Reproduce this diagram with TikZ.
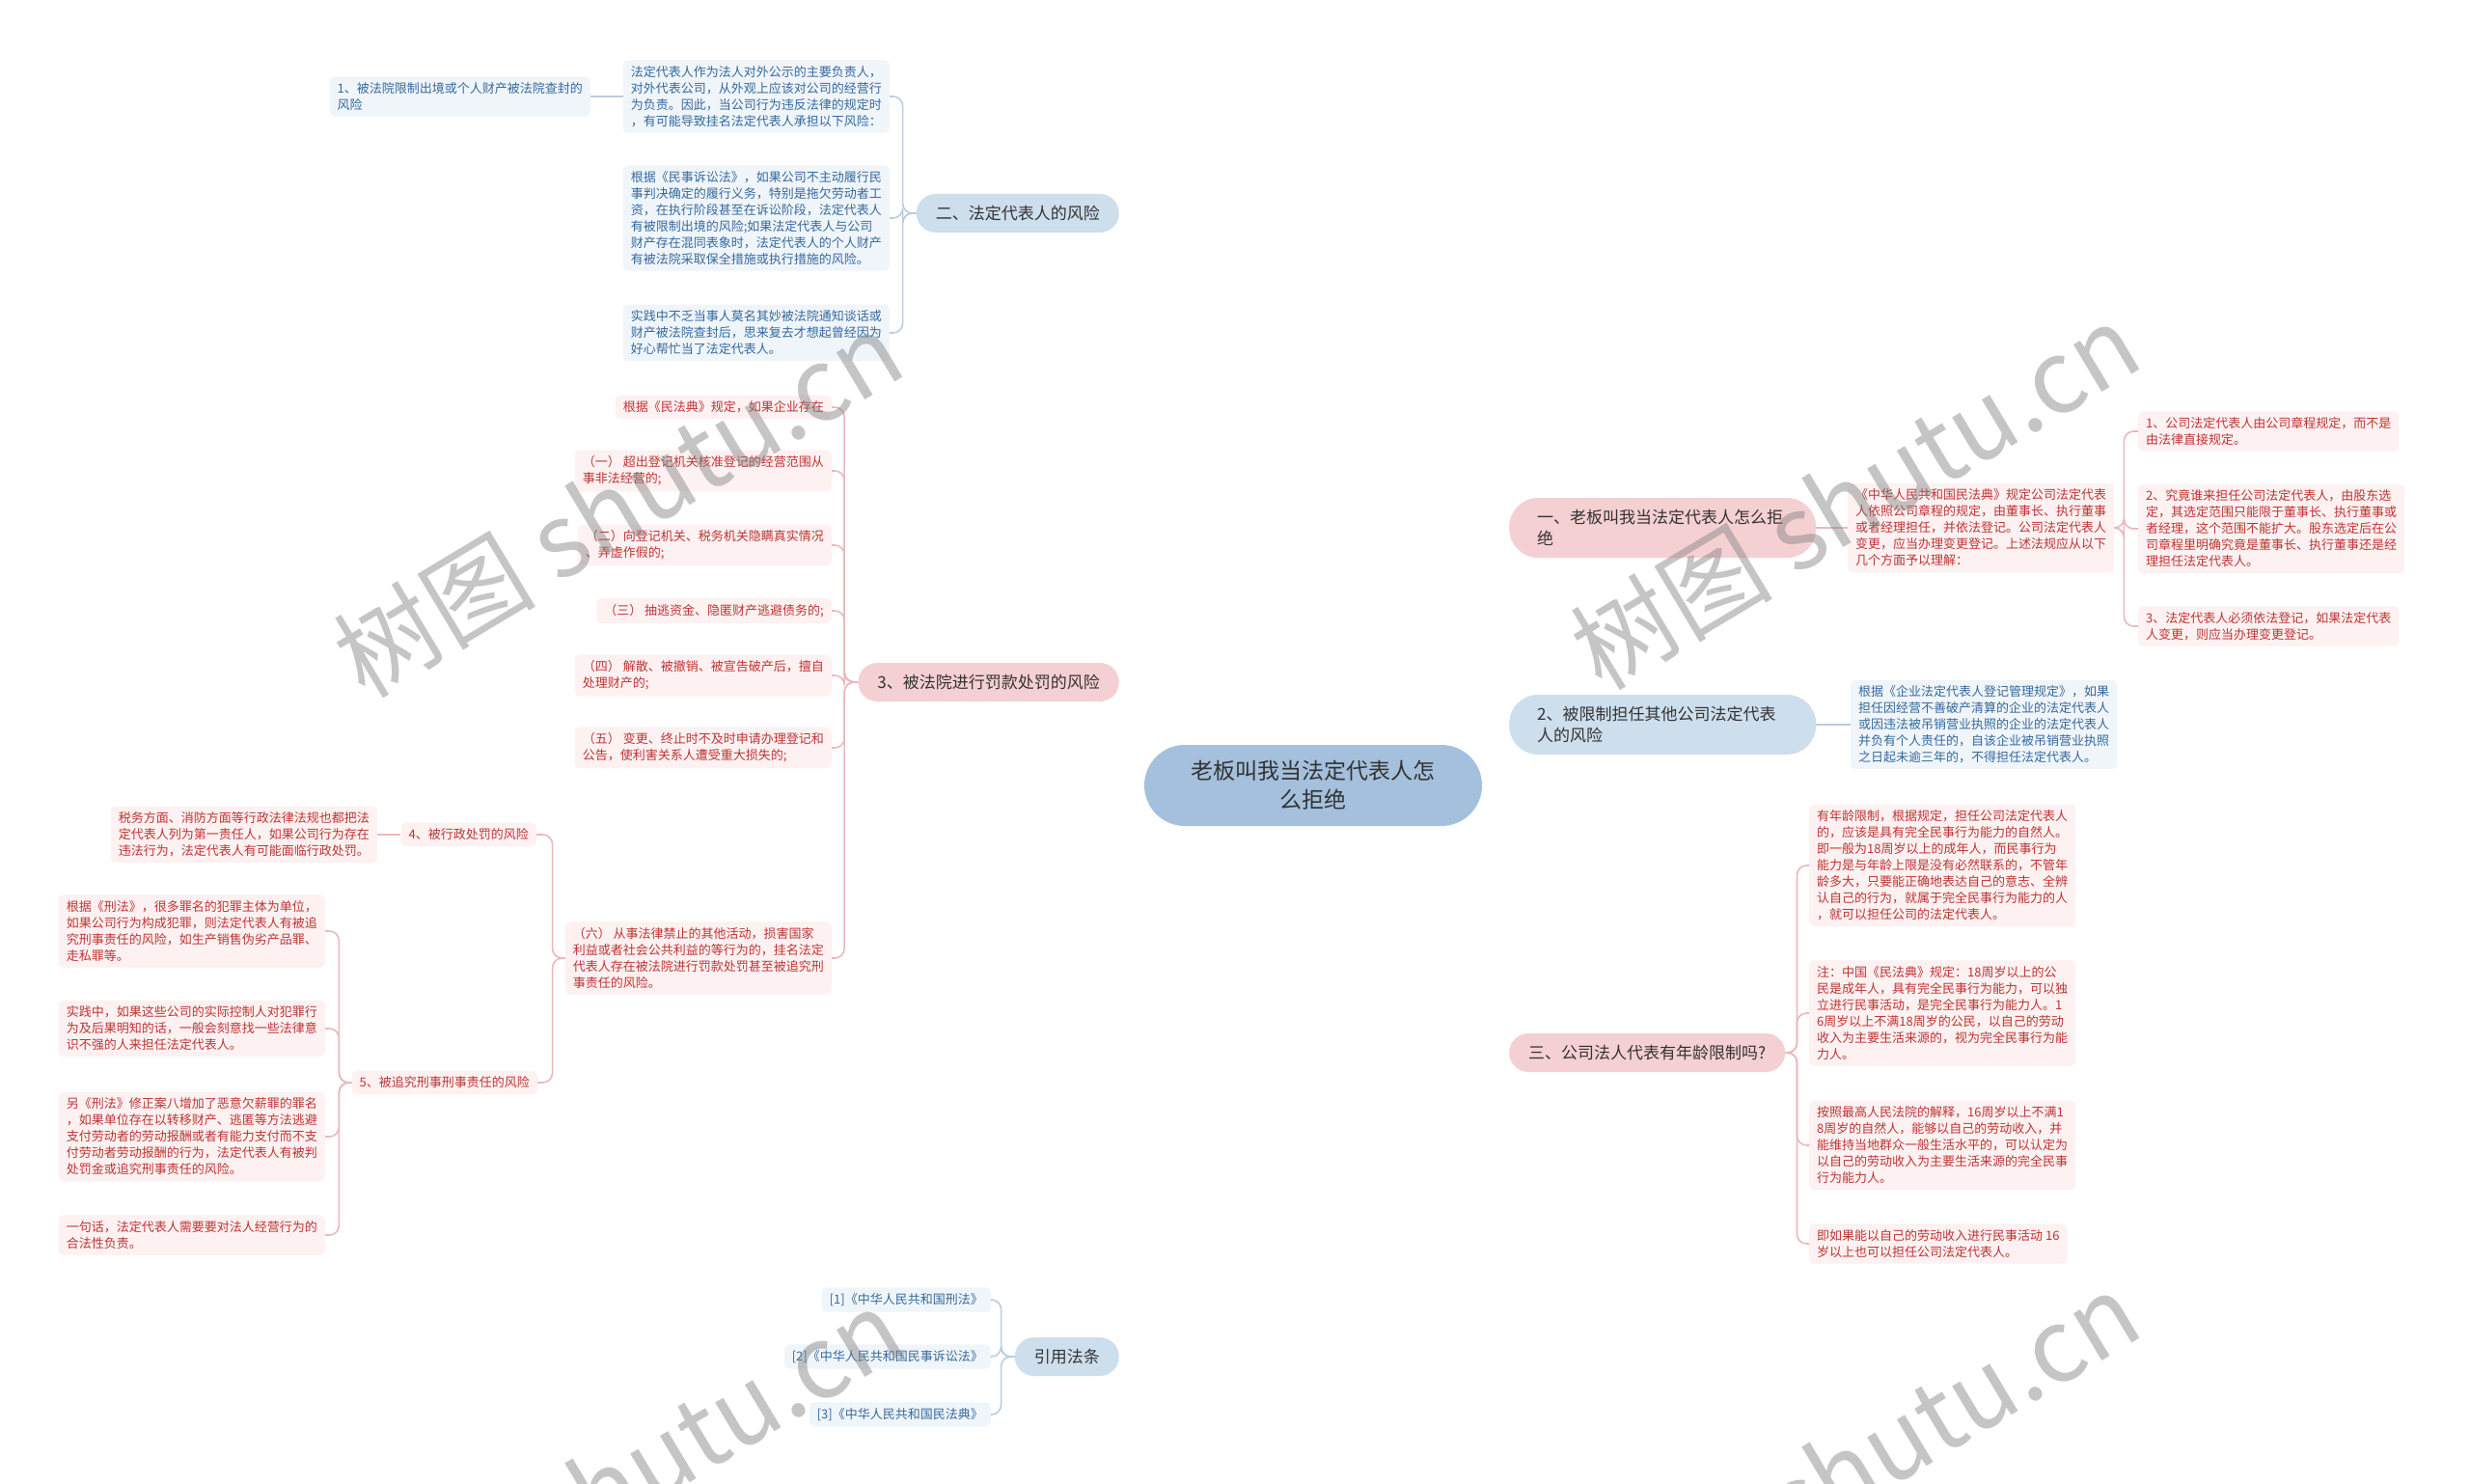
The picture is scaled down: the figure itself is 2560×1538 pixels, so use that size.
\documentclass[tikz,border=0pt]{standalone}
\usepackage{fontspec}
\setmainfont{Noto Sans CJK SC}
\usetikzlibrary{backgrounds}
\definecolor{rootfill}{HTML}{A4C0DC}
\definecolor{topicblue}{HTML}{CDDEED}
\definecolor{topicpink}{HTML}{F5D0D2}
\definecolor{leafblue}{HTML}{F0F5FA}
\definecolor{leafpink}{HTML}{FDF1F1}
\definecolor{inkblue}{HTML}{34699E}
\definecolor{inkpink}{HTML}{BE3434}
\definecolor{ink}{HTML}{333333}
\definecolor{lineblue}{HTML}{B9CDE1}
\definecolor{linepink}{HTML}{EAB9BC}
\tikzset{
  rootnode/.style={fill=rootfill, text=ink, rounded corners=42pt, minimum width=350pt, minimum height=84pt, align=center, font=\fontsize{23pt}{30pt}\selectfont},
  topicnode/.style={rounded corners=20pt, minimum height=40pt, inner xsep=20pt, text=ink, align=left, font=\fontsize{17pt}{22pt}\selectfont},
  bluetopic/.style={topicnode, fill=topicblue},
  pinktopic/.style={topicnode, fill=topicpink},
  leafnode/.style={rounded corners=5pt, inner xsep=8pt, inner ysep=6pt, align=left, font=\fontsize{13pt}{17pt}\selectfont},
  blueleaf/.style={leafnode, fill=leafblue, text=inkblue},
  pinkleaf/.style={leafnode, fill=leafpink, text=inkpink},
  blueedge/.style={draw=lineblue, line width=1.6pt, rounded corners=10pt},
  pinkedge/.style={draw=linepink, line width=1.6pt, rounded corners=10pt},
  wmark/.style={text=gray, opacity=0.45, rotate=31, font=\fontsize{105pt}{105pt}\selectfont}
}

\begin{document}
\begin{tikzpicture}[x=1pt, y=-1pt]
\fill[white] (0,0) rectangle (2560,1538);
\useasboundingbox (0,0) rectangle (2560,1538);

\node[rootnode] (root) at (1361,814) {老板叫我当法定代表人怎\\么拒绝};

% left side
\node[bluetopic, anchor=east] (risk) at (1160,221) {二、法定代表人的风险};
\node[blueleaf, anchor=east] (riskbase) at (922,100) {法定代表人作为法人对外公示的主要负责人，\\对外代表公司，从外观上应该对公司的经营行\\为负责。因此，当公司行为违反法律的规定时\\，有可能导致挂名法定代表人承担以下风险：};
\node[blueleaf, anchor=east] (exitban) at (612,100) {1、被法院限制出境或个人财产被法院查封的\\风险};
\node[blueleaf, anchor=east] (civil) at (922,226) {根据《民事诉讼法》，如果公司不主动履行民\\事判决确定的履行义务，特别是拖欠劳动者工\\资，在执行阶段甚至在诉讼阶段，法定代表人\\有被限制出境的风险;如果法定代表人与公司\\财产存在混同表象时，法定代表人的个人财产\\有被法院采取保全措施或执行措施的风险。};
\node[blueleaf, anchor=east] (unaware) at (922,345) {实践中不乏当事人莫名其妙被法院通知谈话或\\财产被法院查封后，思来复去才想起曾经因为\\好心帮忙当了法定代表人。};

\node[pinktopic, anchor=east] (fine) at (1160,707) {3、被法院进行罚款处罚的风险};
\node[pinkleaf, anchor=east] (fbasis) at (862,422) {根据《民法典》规定，如果企业存在};
\node[pinkleaf, anchor=east] (fone) at (862,488) {（一） 超出登记机关核准登记的经营范围从\\事非法经营的;};
\node[pinkleaf, anchor=east] (ftwo) at (862,565) {（二）向登记机关、税务机关隐瞒真实情况\\、弄虚作假的;};
\node[pinkleaf, anchor=east] (fthree) at (862,633) {（三） 抽逃资金、隐匿财产逃避债务的;};
\node[pinkleaf, anchor=east] (ffour) at (862,700) {（四） 解散、被撤销、被宣告破产后，擅自\\处理财产的;};
\node[pinkleaf, anchor=east] (ffive) at (862,775) {（五） 变更、终止时不及时申请办理登记和\\公告，使利害关系人遭受重大损失的;};
\node[pinkleaf, anchor=east] (fsix) at (862,993) {（六） 从事法律禁止的其他活动，损害国家\\利益或者社会公共利益的等行为的，挂名法定\\代表人存在被法院进行罚款处罚甚至被追究刑\\事责任的风险。};

\node[pinkleaf, anchor=east] (admin) at (556,865) {4、被行政处罚的风险};
\node[pinkleaf, anchor=east] (adminleaf) at (391,865) {税务方面、消防方面等行政法律法规也都把法\\定代表人列为第一责任人，如果公司行为存在\\违法行为，法定代表人有可能面临行政处罚。};
\node[pinkleaf, anchor=east] (crime) at (557,1122) {5、被追究刑事刑事责任的风险};
\node[pinkleaf, anchor=east] (cone) at (337,965) {根据《刑法》，很多罪名的犯罪主体为单位，\\如果公司行为构成犯罪，则法定代表人有被追\\究刑事责任的风险，如生产销售伪劣产品罪、\\走私罪等。};
\node[pinkleaf, anchor=east] (ctwo) at (337,1066) {实践中，如果这些公司的实际控制人对犯罪行\\为及后果明知的话，一般会刻意找一些法律意\\识不强的人来担任法定代表人。};
\node[pinkleaf, anchor=east] (cthree) at (337,1178) {另《刑法》修正案八增加了恶意欠薪罪的罪名\\，如果单位存在以转移财产、逃匿等方法逃避\\支付劳动者的劳动报酬或者有能力支付而不支\\付劳动者劳动报酬的行为，法定代表人有被判\\处罚金或追究刑事责任的风险。};
\node[pinkleaf, anchor=east] (cfour) at (337,1280) {一句话，法定代表人需要要对法人经营行为的\\合法性负责。};

\node[bluetopic, anchor=east] (cite) at (1160,1406) {引用法条};
\node[blueleaf, anchor=east] (citeone) at (1027,1347) {[1]《中华人民共和国刑法》};
\node[blueleaf, anchor=east] (citetwo) at (1027,1406) {[2]《中华人民共和国民事诉讼法》};
\node[blueleaf, anchor=east] (citethree) at (1027,1466) {[3]《中华人民共和国民法典》};

% right side
\node[pinktopic, anchor=west, text width=260pt, inner xsep=29pt, minimum height=62pt, rounded corners=30pt] (refuse) at (1564,547) {一、老板叫我当法定代表人怎么拒\\绝};
\node[pinkleaf, anchor=west] (rule) at (1915,547) {《中华人民共和国民法典》规定公司法定代表\\人依照公司章程的规定，由董事长、执行董事\\或者经理担任，并依法登记。公司法定代表人\\变更，应当办理变更登记。上述法规应从以下\\几个方面予以理解：};
\node[pinkleaf, anchor=west] (ruleone) at (2216,447) {1、公司法定代表人由公司章程规定，而不是\\由法律直接规定。};
\node[pinkleaf, anchor=west] (ruletwo) at (2216,548) {2、究竟谁来担任公司法定代表人，由股东选\\定，其选定范围只能限于董事长、执行董事或\\者经理，这个范围不能扩大。股东选定后在公\\司章程里明确究竟是董事长、执行董事还是经\\理担任法定代表人。};
\node[pinkleaf, anchor=west] (rulethree) at (2216,649) {3、法定代表人必须依法登记，如果法定代表\\人变更，则应当办理变更登记。};

\node[bluetopic, anchor=west, text width=260pt, inner xsep=29pt, minimum height=62pt, rounded corners=30pt] (barred) at (1564,751) {2、被限制担任其他公司法定代表\\人的风险};
\node[blueleaf, anchor=west] (barredleaf) at (1918,751) {根据《企业法定代表人登记管理规定》，如果\\担任因经营不善破产清算的企业的法定代表人\\或因违法被吊销营业执照的企业的法定代表人\\并负有个人责任的，自该企业被吊销营业执照\\之日起未逾三年的，不得担任法定代表人。};

\node[pinktopic, anchor=west] (age) at (1564,1091) {三、公司法人代表有年龄限制吗?};
\node[pinkleaf, anchor=west] (ageone) at (1875,897) {有年龄限制，根据规定，担任公司法定代表人\\的，应该是具有完全民事行为能力的自然人。\\即一般为18周岁以上的成年人，而民事行为\\能力是与年龄上限是没有必然联系的，不管年\\龄多大，只要能正确地表达自己的意志、全辨\\认自己的行为，就属于完全民事行为能力的人\\，就可以担任公司的法定代表人。};
\node[pinkleaf, anchor=west] (agetwo) at (1875,1050) {注：中国《民法典》规定：18周岁以上的公\\民是成年人，具有完全民事行为能力，可以独\\立进行民事活动，是完全民事行为能力人。1\\6周岁以上不满18周岁的公民，以自己的劳动\\收入为主要生活来源的，视为完全民事行为能\\力人。};
\node[pinkleaf, anchor=west] (agethree) at (1875,1187) {按照最高人民法院的解释，16周岁以上不满1\\8周岁的自然人，能够以自己的劳动收入，并\\能维持当地群众一般生活水平的，可以认定为\\以自己的劳动收入为主要生活来源的完全民事\\行为能力人。};
\node[pinkleaf, anchor=west] (agefour) at (1875,1289) {即如果能以自己的劳动收入进行民事活动 16\\岁以上也可以担任公司法定代表人。};

% connectors
\begin{scope}[on background layer]
\foreach \n/\c in {risk/lineblue,fine/linepink,cite/lineblue}
  \draw[\c, line width=2.2pt] (root.center) .. controls (root.center |- \n.east) .. (\n.east);
\foreach \n/\c in {refuse/linepink,barred/lineblue,age/linepink}
  \draw[\c, line width=2.2pt] (root.center) .. controls (root.center |- \n.west) .. (\n.west);
\end{scope}
\foreach \i in {riskbase,civil,unaware}
  \draw[blueedge] (risk.west) -- ++(-14,0) |- (\i.east);
\draw[blueedge] (riskbase.west) -- (exitban.east);
\foreach \i in {fbasis,fone,ftwo,fthree,ffour,ffive,fsix}
  \draw[pinkedge] (fine.west) -- ++(-14,0) |- (\i.east);
\foreach \i in {admin,crime}
  \draw[pinkedge] (fsix.west) -- ++(-13,0) |- (\i.east);
\draw[pinkedge] (admin.west) -- (adminleaf.east);
\foreach \i in {cone,ctwo,cthree,cfour}
  \draw[pinkedge] (crime.west) -- ++(-13,0) |- (\i.east);
\foreach \i in {citeone,citetwo,citethree}
  \draw[blueedge] (cite.west) -- ++(-14,0) |- (\i.east);
\draw[pinkedge] (refuse.east) -- (rule.west);
\foreach \i in {ruleone,ruletwo,rulethree}
  \draw[pinkedge] (rule.east) -- ++(10,0) |- (\i.west);
\draw[blueedge] (barred.east) -- (barredleaf.west);
\foreach \i in {ageone,agetwo,agethree,agefour}
  \draw[pinkedge] (age.east) -- ++(12,0) |- (\i.west);

% watermark
\node[wmark] (wma) at (640,522) {树图 shutu.cn};
\node[wmark] (wmb) at (1922,514) {树图 shutu.cn};
\node[wmark] (wmc) at (640,1535) {树图 shutu.cn};
\node[wmark] (wmd) at (1922,1518) {树图 shutu.cn};
\end{tikzpicture}
\end{document}
